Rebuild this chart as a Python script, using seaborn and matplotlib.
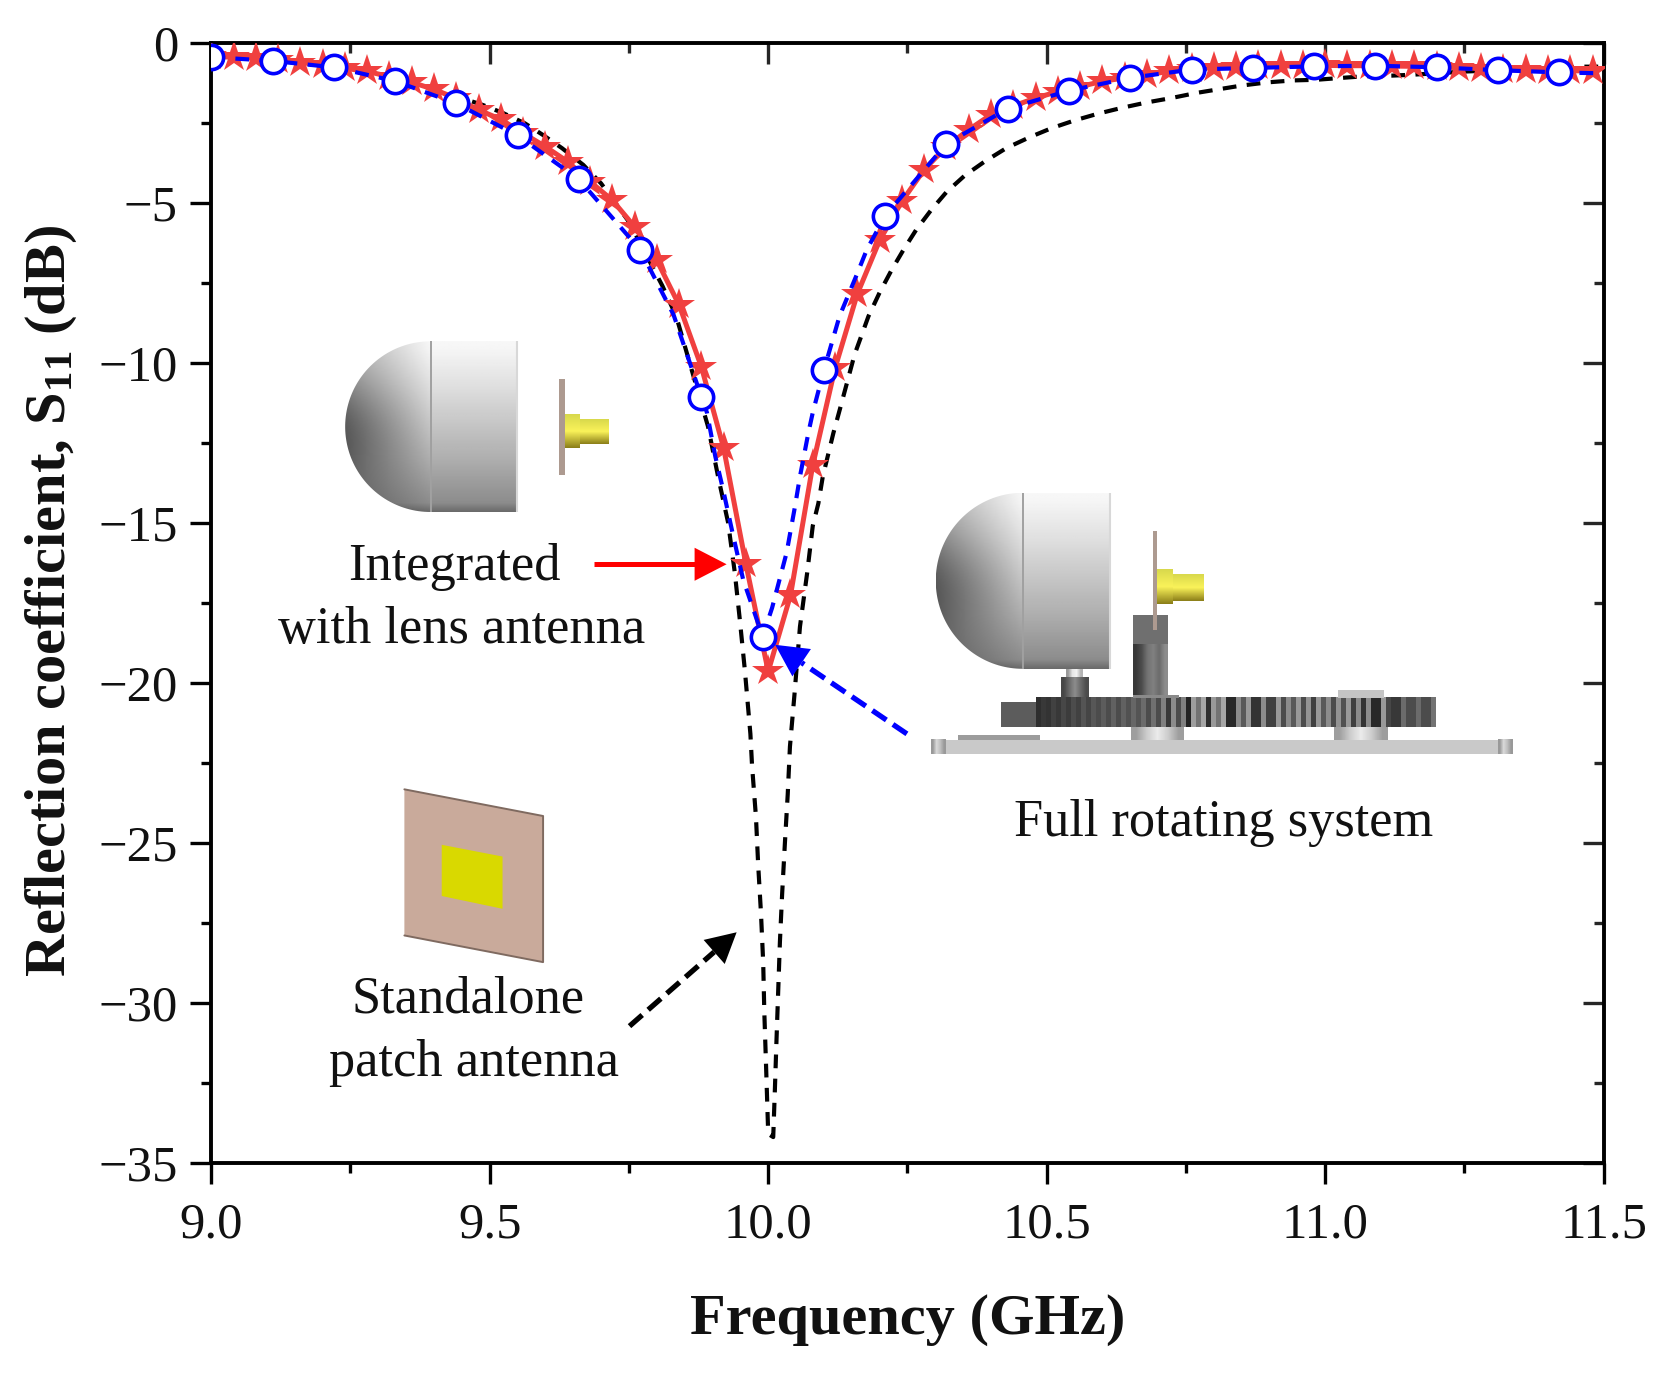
import numpy as np
import pandas as pd
import matplotlib
matplotlib.use("Agg")
import matplotlib.pyplot as plt
from matplotlib.patches import Polygon, Rectangle
from matplotlib.ticker import MultipleLocator, FormatStrFormatter
import seaborn as sns

# ---------- data ----------
red_freq = [9.00, 9.04, 9.08, 9.12, 9.16, 9.20, 9.24, 9.28, 9.32, 9.36, 9.40, 9.44, 9.48, 9.52, 9.56, 9.60,
            9.64, 9.68, 9.72, 9.76, 9.80, 9.84, 9.88, 9.92, 9.96, 10.00, 10.04, 10.08, 10.12, 10.16, 10.20,
            10.24, 10.28, 10.32, 10.36, 10.40, 10.44, 10.48, 10.52, 10.56, 10.60, 10.64, 10.68, 10.72, 10.76,
            10.80, 10.84, 10.88, 10.92, 10.96, 11.00, 11.04, 11.08, 11.12, 11.16, 11.20, 11.24, 11.28, 11.32,
            11.36, 11.40, 11.44, 11.48]
red_s11 = [-0.42, -0.46, -0.49, -0.55, -0.62, -0.70, -0.80, -0.90, -1.06, -1.24, -1.46, -1.74, -2.10, -2.40, -2.83, -3.25,
           -3.72, -4.34, -4.92, -5.75, -6.80, -8.20, -10.13, -12.67, -16.30, -19.65, -17.27, -13.20, -10.17, -7.85, -6.18,
           -4.96, -3.97, -3.25, -2.72, -2.25, -1.98, -1.73, -1.53, -1.37, -1.21, -1.10, -1.00, -0.90, -0.83,
           -0.78, -0.76, -0.74, -0.73, -0.72, -0.71, -0.72, -0.72, -0.73, -0.74, -0.76, -0.78, -0.81, -0.84,
           -0.86, -0.87, -0.88, -0.88]

blue_marker_freq = [9.00, 9.11, 9.22, 9.33, 9.44, 9.55, 9.66, 9.77, 9.88, 9.99, 10.10, 10.21, 10.32, 10.43, 10.54,
                    10.65, 10.76, 10.87, 10.98, 11.09, 11.20, 11.31, 11.42]
blue_marker_s11 = [-0.45, -0.57, -0.77, -1.20, -1.90, -2.90, -4.27, -6.47, -11.07, -18.56, -10.23, -5.41, -3.16, -2.06,
                   -1.50, -1.10, -0.84, -0.79, -0.74, -0.72, -0.77, -0.86, -0.93]
blue_extra_freq = [9.83, 9.89, 9.905, 9.919, 9.937, 9.955, 10.007, 10.033, 10.048, 10.057, 10.072, 10.08, 10.128, 10.159,
                   10.177, 11.50]
blue_extra_s11 = [-8.50, -11.56, -12.93, -13.97, -15.40, -16.78, -17.66, -15.94, -14.50, -13.56, -12.20, -11.56, -8.55, -7.25,
                  -6.47, -0.96]

black_freq = [9.00, 9.10, 9.20, 9.30, 9.40, 9.488, 9.524, 9.563, 9.596, 9.63, 9.668, 9.70, 9.75, 9.81, 9.835, 9.892, 9.91,
              9.928, 9.94, 9.949, 9.958, 9.964, 9.968, 9.971, 9.978, 9.982, 9.987, 9.991, 9.993, 9.996, 10.00,
              10.009, 10.012, 10.015, 10.018, 10.021, 10.025, 10.03, 10.035, 10.039, 10.047, 10.057, 10.07, 10.08,
              10.09, 10.098, 10.117, 10.13, 10.155, 10.18, 10.20, 10.222, 10.243, 10.266, 10.293, 10.32, 10.353, 10.389,
              10.428, 10.47, 10.509, 10.55, 10.592, 10.634, 10.679, 10.724, 10.769, 10.811, 10.85, 10.897, 10.942,
              10.984, 11.03, 11.07, 11.12, 11.158, 11.254, 11.466, 11.50]
black_s11 = [-0.42, -0.52, -0.72, -1.00, -1.45, -1.95, -2.20, -2.52, -2.89, -3.30, -3.82, -4.40, -5.60, -7.60, -8.56, -12.00, -13.56,
             -15.00, -16.56, -18.03, -19.60, -20.80, -21.60, -22.60, -24.20, -25.70, -27.20, -28.75, -30.30, -31.90, -34.10,
             -34.20, -32.70, -31.10, -29.60, -28.10, -26.60, -25.00, -23.50, -22.00, -20.40, -18.25, -16.56, -15.10,
             -14.40, -13.56, -12.20, -11.37, -9.75, -8.55, -7.81, -7.09, -6.47, -5.84, -5.22, -4.67, -4.15, -3.71,
             -3.29, -2.95, -2.67, -2.43, -2.22, -2.04, -1.87, -1.73, -1.57, -1.45, -1.34, -1.24, -1.18,
             -1.16, -1.10, -1.05, -1.03, -1.00, -0.90, -0.75, -0.75]

x_ticks = [9.0, 9.5, 10.0, 10.5, 11.0, 11.5]
y_ticks = [0, -5, -10, -15, -20, -25, -30, -35]
x_label = "Frequency (GHz)"
y_label = r"Reflection coefficient, S$_{\mathbf{11}}$ (dB)"

label_integrated = ["Integrated", "with lens antenna"]
label_standalone = ["Standalone", "patch antenna"]
label_full = "Full rotating system"

RED = "#f0403f"
BLUE = "#0000ff"

# ---------- style ----------
sns.set_theme(style="ticks")
plt.rcParams["font.family"] = ["Liberation Serif", "DejaVu Serif"]
plt.rcParams["mathtext.fontset"] = "custom"
plt.rcParams["mathtext.rm"] = "Liberation Serif"
plt.rcParams["mathtext.bf"] = "Liberation Serif:bold"
plt.rcParams["mathtext.it"] = "Liberation Serif:italic"

W, H = 1568.0, 1290.0   # layout grid
fig = plt.figure(figsize=(16.73, 13.76), dpi=100, facecolor="white")
ax = fig.add_axes([198 / W, 1 - 1090 / H, (1503 - 198) / W, (1090 - 40) / H])
ov = fig.add_axes([0, 0, 1, 1], facecolor="none", zorder=5)
ov.axis("off")

# ---------- curves ----------
black_df = pd.DataFrame({"f": black_freq, "s": black_s11})
red_df = pd.DataFrame({"f": red_freq, "s": red_s11})
blue_mark_df = pd.DataFrame({"f": blue_marker_freq, "s": blue_marker_s11})
blue_df = pd.concat([blue_mark_df, pd.DataFrame({"f": blue_extra_freq, "s": blue_extra_s11})]).sort_values("f")

sns.lineplot(data=black_df, x="f", y="s", sort=False, estimator=None, ax=ax, color="black",
             lw=3.0, linestyle=(0, (3.3, 2.5)), zorder=2)
sns.lineplot(data=red_df, x="f", y="s", sort=False, estimator=None, ax=ax, color=RED, lw=3.6,
             marker="*", markersize=24, markeredgewidth=0, markerfacecolor=RED, zorder=3)
sns.lineplot(data=blue_df, x="f", y="s", sort=False, estimator=None, ax=ax, color=BLUE,
             lw=3.0, linestyle=(0, (3.3, 2.5)), zorder=4)
sns.scatterplot(data=blue_mark_df, x="f", y="s", ax=ax, s=17.5 ** 2, facecolor="white", edgecolor=BLUE,
                linewidth=2.6, zorder=5)

# ---------- axes ----------
ax.set_xlim(9.0, 11.5)
ax.set_ylim(-35, 0)
ax.set_xticks(x_ticks)
ax.set_yticks(y_ticks)
ax.xaxis.set_major_formatter(FormatStrFormatter("%.1f"))
ax.xaxis.set_minor_locator(MultipleLocator(0.25))
ax.yaxis.set_minor_locator(MultipleLocator(2.5))
ax.tick_params(axis="both", which="major", length=15, width=2.4, labelsize=36.5, direction="out",
               color="black", labelcolor="#111111")
ax.tick_params(axis="x", which="major", pad=13)
ax.tick_params(axis="y", which="major", pad=9)
ax.tick_params(axis="both", which="minor", length=7.5, width=2.4, direction="out", color="black")
for s in ax.spines.values():
    s.set_linewidth(2.8)
    s.set_color("black")
# mirrored inward ticks on top and right
top = ax.secondary_xaxis("top")
top.set_xticks(x_ticks)
top.xaxis.set_minor_locator(MultipleLocator(0.25))
top.tick_params(axis="x", which="major", direction="in", length=15, width=2.4, labeltop=False)
top.tick_params(axis="x", which="minor", direction="in", length=7.5, width=2.4)
top.spines["top"].set_visible(False)
right = ax.secondary_yaxis("right")
right.set_yticks(y_ticks)
right.yaxis.set_minor_locator(MultipleLocator(2.5))
right.tick_params(axis="y", which="major", direction="in", length=15, width=2.4, labelright=False)
right.tick_params(axis="y", which="minor", direction="in", length=7.5, width=2.4)
right.spines["right"].set_visible(False)

ov.set_xlim(0, W)
ov.set_ylim(H, 0)
ax.set_xlabel(x_label, fontsize=42, fontweight="bold", color="#111111")
ax.set_ylabel(y_label, fontsize=42, fontweight="bold", color="#111111")
ax.xaxis.set_label_coords(851, 1213, transform=ov.transData)
ax.yaxis.set_label_coords(74, 563, transform=ov.transData)


# ---------- helpers for the inset drawings ----------
def gray_image(arr, x0, x1, y0, y1, clip=None, z=2, interp="bilinear"):
    im = ov.imshow(arr, extent=(x0, x1, y1, y0), cmap="gray", vmin=0, vmax=1, aspect="auto",
                   interpolation=interp, zorder=z)
    if clip is not None:
        clip.set_transform(ov.transData)
        im.set_clip_path(clip)
    return im


def rect(x0, x1, y0, y1, color, z=3, **kw):
    ov.add_patch(Rectangle((x0, y0), x1 - x0, y1 - y0, facecolor=color, edgecolor="none", zorder=z, **kw))


def lens(xl, seam, xr, yt, yb):
    t = np.linspace(0, 1, 120)
    shade = np.interp(t, [0, 0.05, 0.25, 0.7, 0.95, 1], [0.97, 0.96, 0.88, 0.68, 0.55, 0.42])
    gray_image(shade[:, None], seam, xr, yt, yb)
    yy, xx = np.mgrid[0:1:120j, 0:1:90j]
    dome = shade[:, None] * (0.72 + 0.28 * xx) - 0.20 * (1 - xx) * np.exp(-((yy - 0.5) / 0.32) ** 2)
    th = np.linspace(-np.pi / 2, np.pi / 2, 90)
    pts = np.c_[seam - (seam - xl) * np.cos(th), (yt + yb) / 2 + (yb - yt) / 2 * np.sin(th)]
    gray_image(np.clip(dome, 0, 1), xl, seam, yt, yb, clip=Polygon(pts, closed=True))
    ov.plot([seam, seam], [yt, yb], color="#a0a0a0", lw=1.4, zorder=4, solid_capstyle="butt")
    ov.plot([xr, xr], [yt, yb], color="#d8d8d8", lw=1.5, zorder=4, solid_capstyle="butt")


def connector(xp0, xp1, yp0, yp1, xb, xm, xe, yb0, yb1, ym0, ym1):
    rect(xp0, xp1, yp0, yp1, "#ad9a90")
    t = np.linspace(0, 1, 40)
    col = np.c_[np.interp(t, [0, .5, 1], [.85, .98, .55]), np.interp(t, [0, .5, 1], [.85, .95, .5]),
                np.interp(t, [0, .5, 1], [.3, .35, .1])][:, None, :]
    ov.imshow(col, extent=(xb, xm, yb1, yb0), aspect="auto", zorder=3)
    ov.imshow(col, extent=(xm, xe, ym1, ym0), aspect="auto", zorder=3)


def arrow(x0, y0, x1, y1, color, head_len, head_half, lw, ls="-"):
    d = np.array([x1 - x0, y1 - y0], float)
    d /= np.hypot(*d)
    n = np.array([-d[1], d[0]])
    tip = np.array([x1, y1])
    base = tip - d * head_len
    ov.plot([x0, base[0]], [y0, base[1]], color=color, lw=lw, linestyle=ls, zorder=8, solid_capstyle="butt")
    ov.add_patch(Polygon([tip, base + n * head_half, base - n * head_half], closed=True, facecolor=color,
                         edgecolor="none", zorder=8))


# lens + patch inset
lens(323.5, 403.5, 484.5, 320, 480)
connector(524, 529.6, 355, 445, 529.6, 543.6, 570.7, 389, 420, 393, 416)

# standalone patch
ov.add_patch(Polygon([(379, 740), (509, 765), (509, 902), (379, 877)], closed=True, facecolor="#c9aa9b",
                     edgecolor="none", zorder=3))
ov.plot([379, 509, 509, 379], [740, 765, 902, 877], color="#7f6a60", lw=1.4, zorder=4)
ov.add_patch(Polygon([(414, 792), (471, 803), (471, 852), (414, 840)], closed=True, facecolor="#d9d900",
                     edgecolor="none", zorder=4))

# full rotating system
rect(873, 1418, 693.5, 707, "#c9c9c9")
for a, b in [(873, 887), (1404, 1418)]:
    gray_image(np.array([[0.6, 0.85, 0.75, 0.6]]), a, b, 693.5, 707, z=4)
rect(898, 975, 689, 694, "#9c9c9c")
for a, b in [(1060, 1109), (1250, 1300)]:
    gray_image(np.array([[0.62, 0.8, 0.92, 0.8, 0.62]]), a, b, 681, 694)
rect(938, 972, 658, 681.5, "#5c5c5c")
gear_shades = [.18, .22, .2, .26, .22, .28, .24, .3, .26, .33, .27, .34, .3, .36, .3, .38, .3, .38, .32, .4, .33, .42,
               .3, .44, .3, .5, .22, .55, .3, .5, .14, .62, .45, .65, .18, .6, .45, .65, .16, .16, .55, .35, .6, .2,
               .2, .55, .25, .25, .6, .3, .55, .35, .6, .3, .58, .25, .6, .35, .55, .3, .58, .32, .6, .25, .55, .2,
               .55, .16, .16, .6, .28, .22, .22, .42, .3, .3, .42, .3, .3, .45]
gray_image(np.array([gear_shades]), 971, 1345, 654, 681.5, z=3, interp="nearest")
rect(1062, 1105, 651.5, 654, "#8a8a8a")
rect(1254, 1297, 647, 654, "#c4c4c4")
post = np.array([[0.22, 0.3, 0.45, 0.5, 0.42, 0.55]])
gray_image(post, 1062, 1094, 604, 652)
rect(1061.5, 1095, 577, 604, "#6f6f6f")
gray_image(np.array([[0.28, 0.42, 0.55, 0.42, 0.3]]), 994, 1019.5, 635, 653)
gray_image(np.array([[0.6, 0.9, 0.95, 0.7]]), 999, 1014.5, 627, 635)
lens(877, 958.5, 1040, 462, 627)
connector(1080.5, 1084.5, 498, 591, 1084.5, 1099, 1128, 534, 566, 538, 563)

# arrows
arrow(557, 529, 681, 529, "#ff0000", 30, 15.5, 3.6)
arrow(590, 962, 690.4, 874, "black", 28, 15, 3.8, ls=(0, (3.2, 1.5)))
arrow(850, 688, 726.5, 604.5, BLUE, 30, 15.5, 3.8, ls=(0, (3.2, 1.5)))

# annotations
txt = dict(fontsize=37.7, color="#111111", ha="center", va="center", zorder=9)
ov.text(426, 532, label_integrated[0], **txt)
ov.text(433, 591, label_integrated[1], **txt)
ov.text(439, 937, label_standalone[0], **txt)
ov.text(444, 997, label_standalone[1], **txt)
ov.text(1147, 772, label_full, **txt)

ov.set_xlim(0, W)
ov.set_ylim(H, 0)
fig.savefig("out.png", dpi=100, facecolor="white")
